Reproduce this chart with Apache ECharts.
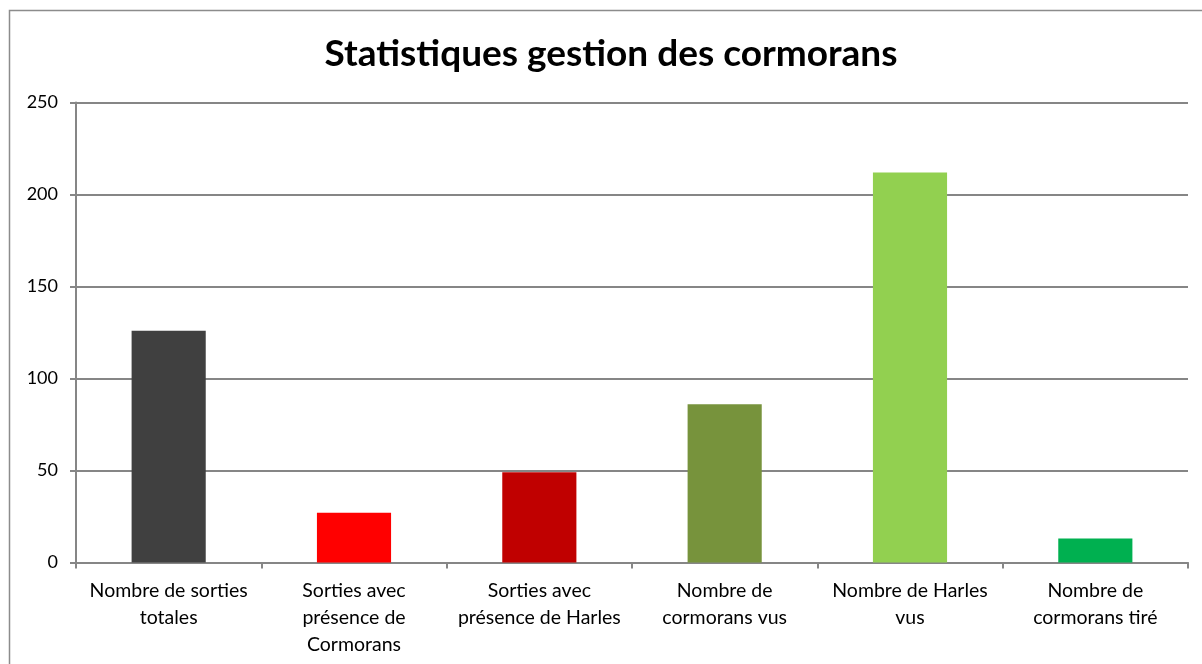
<!DOCTYPE html>
<html lang="fr">
<head>
    <meta charset="utf-8"/>
    <title>Statistiques gestion des cormorans</title>
    <script src="https://cdn.jsdelivr.net/npm/echarts@6/dist/echarts.min.js"></script>
    <style>
        html, body { margin: 0; padding: 0; background: #fff; }
        #chart { width: 1202px; height: 664px; }
    </style>
</head>
<body>
    <div id="chart"></div>
    <script>
        const categories = [
            'Nombre de sorties\ntotales',
            'Sorties avec\nprésence de\nCormorans',
            'Sorties avec\nprésence de Harles',
            'Nombre de\ncormorans vus',
            'Nombre de Harles\nvus',
            'Nombre de\ncormorans tiré'
        ];
        const values = [126, 27, 49, 86, 212, 13];
        const barColors = ['#404040', '#FF0000', '#C00000', '#77933C', '#92D050', '#00B050'];
        const yTicks = [0, 50, 100, 150, 200, 250];

        const font = "Lato, 'Open Sans', sans-serif";
        const chart = echarts.init(document.getElementById('chart'), null, { renderer: 'canvas' });
        const option = {
            animation: false,
            backgroundColor: '#fff',
            graphic: [{
                type: 'rect',
                shape: { x: 9.5, y: 10.5, width: 1260, height: 700 },
                style: { fill: 'none', stroke: '#8c8c8c', lineWidth: 1.5 }
            }],
            title: {
                text: 'Statistiques gestion des cormorans',
                left: 611,
                top: 31,
                textAlign: 'center',
                textStyle: { fontFamily: font, fontSize: 37, fontWeight: 'bold', color: '#000' }
            },
            grid: { left: 76, right: 14, top: 102.5, bottom: 101.5, containLabel: false },
            xAxis: {
                type: 'category',
                data: categories,
                axisLine: { lineStyle: { color: '#868686', width: 2 } },
                axisTick: { show: true, alignWithLabel: false, length: 6, lineStyle: { color: '#868686', width: 2 } },
                axisLabel: {
                    interval: 0,
                    margin: 15,
                    fontFamily: font,
                    fontSize: 19.5,
                    lineHeight: 27,
                    color: '#000'
                }
            },
            yAxis: {
                type: 'value',
                min: yTicks[0],
                max: yTicks[yTicks.length - 1],
                interval: 50,
                axisLine: { show: true, lineStyle: { color: '#868686', width: 2 } },
                axisTick: { show: true, inside: false, length: 6, lineStyle: { color: '#868686', width: 2 } },
                splitLine: { lineStyle: { color: '#868686', width: 2 } },
                axisLabel: { margin: 18, fontFamily: font, fontSize: 18, color: '#000' }
            },
            series: [{
                type: 'bar',
                data: values.map(function (v, i) {
                    return { value: v, itemStyle: { color: barColors[i] } };
                }),
                barWidth: '40%'
            }]
        };
        // title left is the anchor point, nudge to match the original centring
        option.title.left = 606;
        chart.setOption(option);
    </script>
</body>
</html>
